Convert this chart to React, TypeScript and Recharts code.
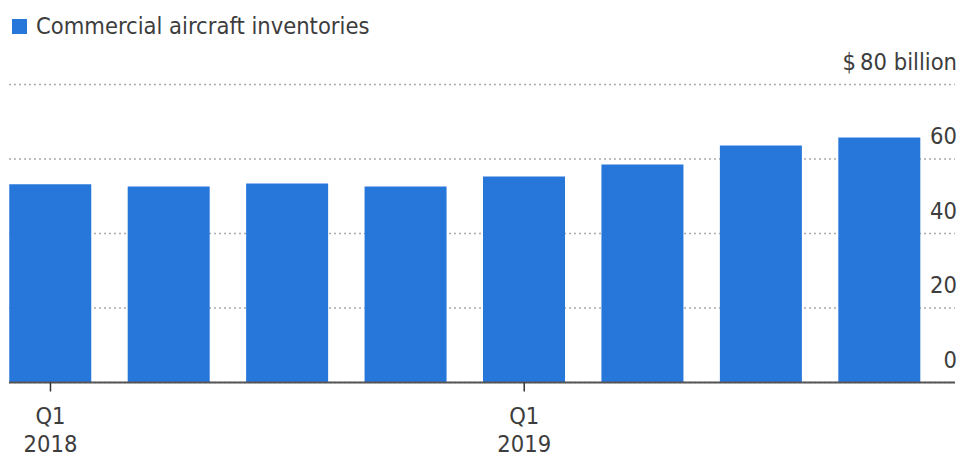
import React from "react";
import { BarChart, Bar, XAxis, YAxis, CartesianGrid, Legend } from "recharts";

const categories = ["Q1 2018", "Q2 2018", "Q3 2018", "Q4 2018", "Q1 2019", "Q2 2019", "Q3 2019", "Q4 2019"];
const inventories = [53.2, 52.6, 53.4, 52.6, 55.3, 58.5, 63.6, 65.8];
const yTicks = [0, 20, 40, 60, 80];
const seriesName = "Commercial aircraft inventories";

const data = categories.map((c, i) => ({ quarter: c, value: inventories[i] }));

const FONT = "'Liberation Sans Narrow', 'DejaVu Sans Condensed', 'Roboto Condensed', sans-serif";
const TEXT = "#3d3d3d";
const BLUE = "#2777DB";

const XTick = (props: any) => {
  const { x, y, payload } = props;
  const parts = String(payload.value).split(" ");
  return (
    <g>
      <text x={x} y={y + 22} textAnchor="middle" dominantBaseline="central" fontSize={23.5} fill={TEXT} fontFamily={FONT}>
        {parts[0]}
      </text>
      <text x={x} y={y + 50} textAnchor="middle" dominantBaseline="central" fontSize={23.5} fill={TEXT} fontFamily={FONT}>
        {parts[1]}
      </text>
    </g>
  );
};

const YTick = (props: any) => {
  const { y, payload } = props;
  const label = payload.value === 80 ? "$\u200980 billion" : String(payload.value);
  return (
    <text x={957} y={y - 23} textAnchor="end" dominantBaseline="central" fontSize={23.5} fill={TEXT} fontFamily={FONT}>
      {label}
    </text>
  );
};

const LegendContent = () => (
  <div style={{ display: "flex", alignItems: "center", height: 40, fontFamily: FONT, fontSize: 23.5, color: TEXT }}>
    <span style={{ display: "inline-block", width: 15, height: 15, background: BLUE, marginRight: 9 }} />
    <span>{seriesName}</span>
  </div>
);

export default function App() {
  return (
    <div style={{ position: "absolute", left: 0, top: 0, background: "#fff" }}>
      <BarChart width={960} height={456} data={data} margin={{ top: 44.5, right: 4, left: 9, bottom: 13.5 }} barSize={82}>
        <Legend verticalAlign="top" align="left" content={<LegendContent />} wrapperStyle={{ top: 6, left: 12, width: "auto" }} />
        <CartesianGrid horizontal vertical={false} stroke="#ababab" strokeDasharray="2 3" strokeWidth={1.5} />
        <XAxis
          dataKey="quarter"
          interval={3}
          padding={{ left: -17.75, right: 16.25 }}
          tick={<XTick />}
          tickSize={9}
          tickLine={{ stroke: "#333", strokeWidth: 1.5 }}
          axisLine={{ stroke: "#555", strokeWidth: 2 }}
          height={60}
        />
        <YAxis
          orientation="right"
          domain={[0, 80]}
          ticks={yTicks}
          axisLine={false}
          tickLine={false}
          width={1}
          tick={<YTick />}
        />
        <Bar dataKey="value" name={seriesName} fill={BLUE} isAnimationActive={false} />
      </BarChart>
    </div>
  );
}
